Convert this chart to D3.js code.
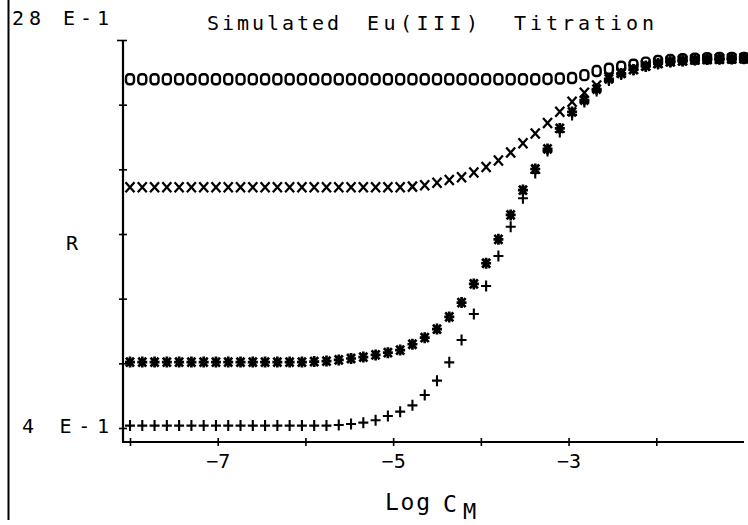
<!DOCTYPE html>
<html lang="en">
<head>
<meta charset="UTF-8" />
<title>Simulated Eu(III) Titration</title>
<script src="https://cdn.jsdelivr.net/npm/d3@7/dist/d3.min.js"></script>
<style>
  body { margin: 0; background: #fff; }
  #chart { display: block; }
  text { font-family: "DejaVu Sans Mono", monospace; fill: #000; }
</style>
</head>
<body>
<svg id="chart" width="748" height="525"></svg>
<script>
// log C_M values (x)
const logC = [-8.00, -7.86, -7.72, -7.58, -7.44, -7.30, -7.16, -7.02, -6.88, -6.74,
  -6.60, -6.46, -6.32, -6.18, -6.04, -5.90, -5.76, -5.62, -5.48, -5.34,
  -5.20, -5.06, -4.92, -4.78, -4.64, -4.50, -4.36, -4.22, -4.08, -3.94,
  -3.80, -3.66, -3.52, -3.38, -3.24, -3.10, -2.96, -2.82, -2.68, -2.54,
  -2.40, -2.26, -2.12, -1.98, -1.84, -1.70, -1.56, -1.42, -1.28, -1.14, -1.00]

// R for each simulated curve
const rOpen = [2.557, 2.557, 2.557, 2.557, 2.557, 2.557, 2.557, 2.557, 2.557, 2.557,
  2.557, 2.557, 2.557, 2.557, 2.557, 2.557, 2.557, 2.557, 2.557, 2.557,
  2.557, 2.557, 2.557, 2.557, 2.557, 2.557, 2.557, 2.557, 2.557, 2.557,
  2.557, 2.557, 2.557, 2.557, 2.559, 2.562, 2.565, 2.583, 2.608, 2.622,
  2.635, 2.647, 2.660, 2.670, 2.676, 2.681, 2.684, 2.687, 2.689, 2.689, 2.689]
const rCross = [1.889, 1.889, 1.889, 1.889, 1.889, 1.889, 1.889, 1.889, 1.889, 1.889,
  1.889, 1.889, 1.889, 1.889, 1.889, 1.889, 1.889, 1.889, 1.889, 1.889,
  1.889, 1.889, 1.889, 1.893, 1.901, 1.917, 1.934, 1.951, 1.980, 2.014,
  2.055, 2.104, 2.161, 2.222, 2.287, 2.356, 2.418, 2.474, 2.519, 2.568,
  2.599, 2.621, 2.642, 2.658, 2.668, 2.674, 2.679, 2.682, 2.684, 2.686, 2.687]
const rStar = [0.808, 0.808, 0.808, 0.808, 0.808, 0.808, 0.808, 0.808, 0.808, 0.808,
  0.808, 0.808, 0.808, 0.808, 0.808, 0.811, 0.814, 0.821, 0.830, 0.839,
  0.852, 0.866, 0.882, 0.918, 0.959, 1.012, 1.087, 1.176, 1.291, 1.419,
  1.567, 1.718, 1.872, 2.002, 2.126, 2.253, 2.355, 2.429, 2.497, 2.559,
  2.593, 2.618, 2.639, 2.655, 2.666, 2.672, 2.678, 2.681, 2.682, 2.684, 2.686]
const rPlus = [0.415, 0.415, 0.415, 0.415, 0.415, 0.415, 0.415, 0.415, 0.415, 0.415,
  0.415, 0.415, 0.415, 0.415, 0.415, 0.415, 0.415, 0.419, 0.425, 0.433,
  0.448, 0.474, 0.501, 0.540, 0.604, 0.693, 0.806, 0.944, 1.105, 1.278,
  1.464, 1.645, 1.821, 1.977, 2.113, 2.231, 2.336, 2.417, 2.485, 2.550,
  2.587, 2.614, 2.636, 2.652, 2.664, 2.670, 2.676, 2.679, 2.682, 2.684, 2.686]

// axis ticks
const xTicks = [-8, -7, -6, -5, -4, -3, -2]
const xLabelled = [-7, -5, -3]
const rTicks = [0.4, 0.8, 1.2, 1.6, 2.0, 2.4, 2.8]

const svg = d3.select('#chart')

const x = d3.scaleLinear().domain([-8, -1]).range([130, 744])
const y = d3.scaleLinear().domain([0.4, 2.8]).range([428, 40])
const axisX = 123
const axisY = 442

// left border rule
svg.append('line')
  .attr('x1', 8.5).attr('x2', 8.5).attr('y1', 0).attr('y2', 520)
  .attr('stroke', '#000').attr('stroke-width', 2)

// y axis
const gy = svg.append('g')
  .attr('transform', `translate(${axisX},0)`)
  .call(d3.axisLeft(y).tickValues(rTicks).tickSize(4).tickFormat(''))
gy.select('.domain').remove()
gy.selectAll('.tick line')
  .attr('x1', 4).attr('x2', d => d === 2.8 ? -6 : -4)
  .attr('stroke', '#000').attr('stroke-width', 1.6)
gy.append('line')
  .attr('x1', 0).attr('x2', 0).attr('y1', y(2.8)).attr('y2', axisY)
  .attr('stroke', '#000').attr('stroke-width', 2.2)

// x axis
const gx = svg.append('g')
  .attr('transform', `translate(0,${axisY})`)
  .call(d3.axisBottom(x).tickValues(xTicks).tickSize(4)
    .tickFormat(d => xLabelled.includes(d) ? '\u2212' + Math.abs(d) : ''))
gx.select('.domain').remove()
gx.selectAll('.tick line')
  .attr('y1', -4).attr('y2', 4)
  .attr('stroke', '#000').attr('stroke-width', 1.6)
gx.selectAll('.tick text')
  .attr('y', 26).attr('dy', 0)
  .style('font-family', '"DejaVu Sans Mono", monospace')
  .style('font-size', '20px').attr('fill', '#000')
gx.append('line')
  .attr('x1', axisX - 1).attr('x2', x(-1)).attr('y1', 0).attr('y2', 0)
  .attr('stroke', '#000').attr('stroke-width', 2.2)

// marker shapes
const shapes = {
  plus: 'M0,-5.5V5.5M-5,0H5',
  star: 'M-4,-4.5L4,4.5M-4,4.5L4,-4.5M0,-5.5V5.5M-5,0H5',
  cross: 'M-4.5,-5L4.5,5M-4.5,5L4.5,-5'
}

function drawSeries(values, kind) {
  const pts = logC.map((c, i) => ({ c, r: values[i] }))
  const g = svg.append('g').attr('class', 'series-' + kind)
  if (kind === 'open') {
    g.selectAll('rect').data(pts).join('rect')
      .attr('x', d => x(d.c) - 4).attr('y', d => y(d.r) - 5)
      .attr('width', 8).attr('height', 10).attr('rx', 3.2)
      .attr('fill', 'none').attr('stroke', '#000').attr('stroke-width', 2.4)
  } else {
    g.selectAll('path').data(pts).join('path')
      .attr('d', shapes[kind])
      .attr('transform', d => `translate(${x(d.c)},${y(d.r)})`)
      .attr('fill', 'none').attr('stroke', '#000')
      .attr('stroke-width', kind === 'star' ? 2.7 : kind === 'cross' ? 2.3 : 2.1)
  }
}
drawSeries(rPlus, 'plus')
drawSeries(rStar, 'star')
drawSeries(rCross, 'cross')
drawSeries(rOpen, 'open')

// texts
function label(str, px, py, size, len) {
  const t = svg.append('text').attr('x', px).attr('y', py)
    .style('font-size', size + 'px').text(str)
  if (len) t.attr('textLength', len).attr('lengthAdjust', 'spacing')
  return t
}
label('Simulated', 207, 30, 20, 132)
label('Eu(III)', 367, 30, 20, 111)
label('Titration', 514, 30, 20, 140)
label('28 E-1', 12, 25, 20, 97)
label('4 E-1', 22, 433, 20, 87)
label('R', 66, 250, 20)
label('Log', 385, 510, 23, 45)
label('C', 443, 512, 23)
label('M', 463, 519, 22)
</script>
</body>
</html>
